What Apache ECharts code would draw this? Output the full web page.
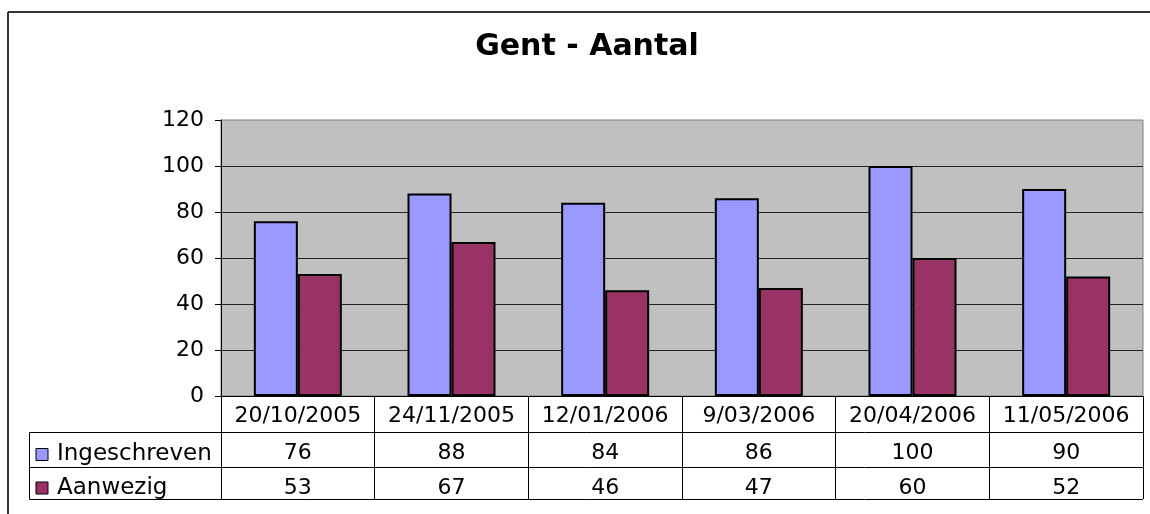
<!DOCTYPE html>
<html>
<head>
<meta charset="utf-8">
<script src="https://cdn.jsdelivr.net/npm/echarts@6/dist/echarts.min.js"></script>
<style>
  html, body { margin: 0; padding: 0; background: #fff; }
  #main { width: 1150px; height: 514px; }
</style>
</head>
<body>
<div id="main"></div>
<script>
const categories = ['20/10/2005', '24/11/2005', '12/01/2006', '9/03/2006', '20/04/2006', '11/05/2006']
const ingeschreven = [76, 88, 84, 86, 100, 90]
const aanwezig = [53, 67, 46, 47, 60, 52]
const yTicks = { min: 0, max: 120, interval: 20 }

const font = 'DejaVu Sans'
const chart = echarts.init(document.getElementById('main'))

// table rows under the plot: one thin grid per row, split lines draw the cell borders
function rowAxis(gridIndex, values) {
  return {
    type: 'category',
    gridIndex: gridIndex,
    position: 'top',
    data: categories,
    axisLine: { show: false },
    axisTick: { show: false },
    axisLabel: {
      inside: true, interval: 0, margin: 10, color: '#000', fontFamily: font, fontSize: 22,
      formatter: (v, i) => String(values[i])
    },
    splitLine: { show: true, interval: 0, lineStyle: { color: '#000', width: 1 } }
  }
}

const line = (x1, y1, x2, y2, color, w) => ({
  type: 'line', silent: true,
  shape: { x1, y1, x2, y2 },
  style: { stroke: color || '#000', lineWidth: w || 1 }
})

chart.setOption({
  animation: false,
  backgroundColor: '#fff',
  textStyle: { fontFamily: font },
  grid: [
    { left: 221, right: 7, top: 120, height: 276, show: true, backgroundColor: '#c0c0c0',
      borderColor: '#808080', borderWidth: 1, outerBoundsMode: 'none' },
    { left: 221, right: 7, top: 432, height: 35.5, outerBoundsMode: 'none' },
    { left: 221, right: 7, top: 467.5, height: 31.5, outerBoundsMode: 'none' }
  ],
  legend: {
    data: ['Ingeschreven', 'Aanwezig'],
    orient: 'vertical',
    left: 35.5,
    top: 443,
    padding: 0,
    itemWidth: 12,
    itemHeight: 12,
    itemGap: 10.5,
    icon: 'rect',
    itemStyle: { borderColor: '#000', borderWidth: 1 },
    textStyle: { color: '#000', fontFamily: font, fontSize: 23, lineHeight: 22, padding: [0, 0, 0, 4] }
  },
  xAxis: [
    {
      type: 'category',
      gridIndex: 0,
      data: categories,
      axisLine: { show: true, lineStyle: { color: '#000', width: 1 } },
      axisTick: { show: true, length: 36, lineStyle: { color: '#000', width: 1 } },
      axisLabel: { interval: 0, margin: 9, color: '#000', fontFamily: font, fontSize: 22 }
    },
    rowAxis(1, ingeschreven),
    rowAxis(2, aanwezig)
  ],
  yAxis: [
    {
      type: 'value',
      gridIndex: 0,
      min: yTicks.min,
      max: yTicks.max,
      interval: yTicks.interval,
      axisLine: { show: true, lineStyle: { color: '#000', width: 1 } },
      axisTick: { show: true, length: 6, lineStyle: { color: '#000', width: 1 } },
      axisLabel: { margin: 17, color: '#000', fontFamily: font, fontSize: 22 },
      splitLine: { show: true, showMaxLine: false, lineStyle: { color: '#222', width: 1 } }
    },
    { type: 'value', gridIndex: 1, show: false },
    { type: 'value', gridIndex: 2, show: false }
  ],
  series: [
    {
      name: 'Ingeschreven', type: 'bar', data: ingeschreven,
      barWidth: 44, barGap: '0%',
      itemStyle: { color: '#9999ff', borderColor: '#000', borderWidth: 2 }
    },
    {
      name: 'Aanwezig', type: 'bar', data: aanwezig,
      barWidth: 44, barGap: '0%',
      itemStyle: { color: '#993366', borderColor: '#000', borderWidth: 2 }
    }
  ],
  graphic: [
    // outer chart frame (only top and left are inside the picture)
    line(8, 12, 1150, 12, '#333', 2),
    line(8, 12, 8, 514, '#333', 2),
    { type: 'text', silent: true,
      style: { text: 'Gent - Aantal', x: 587, y: 47, align: 'center', verticalAlign: 'middle',
        font: 'bold 30px "DejaVu Sans"', fill: '#000' } },
    // data table borders
    line(29.5, 432.5, 1143, 432.5),
    line(29.5, 467.5, 1143, 467.5),
    line(29.5, 499.5, 1143, 499.5),
    line(29.5, 432.5, 29.5, 499.5)
  ]
})
</script>
</body>
</html>
